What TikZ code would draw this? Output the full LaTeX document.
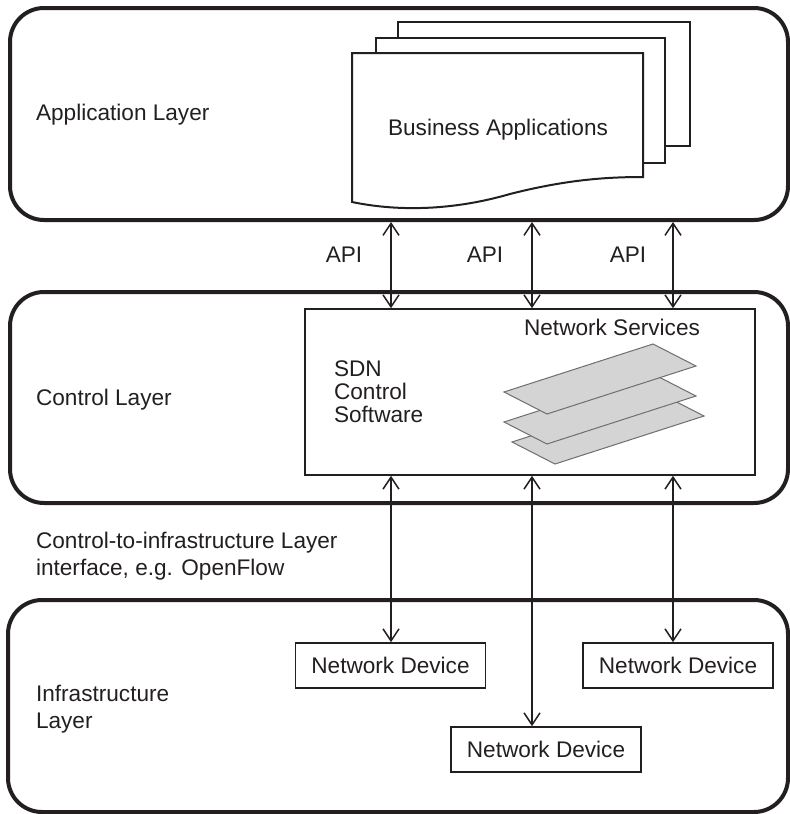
\documentclass[tikz,border=0pt]{standalone}
\usepackage{fontspec}
\setmainfont{Liberation Sans}
\usetikzlibrary{arrows.meta,positioning}
\definecolor{ink}{HTML}{231F20}
\definecolor{planefill}{HTML}{D4D4D4}
\definecolor{planeline}{HTML}{6E6E6E}
\tikzset{
    layer style/.style={draw=ink,line width=2pt,rounded corners=17pt,minimum width=389pt},
    label style/.style={anchor=west,align=left,text=ink},
    box style/.style={draw=ink,line width=0.8pt,fill=white},
    device style/.style={draw=ink,line width=0.8pt,minimum width=95pt,minimum height=22.5pt,text=ink},
    doc style/.style={draw=ink,line width=1pt,fill=white},
    plane style/.style={draw=planeline,line width=0.5pt,fill=planefill},
    arrow style both/.style={draw=ink,line width=0.75pt,{Straight Barb[length=6pt,width=8pt]}-{Straight Barb[length=6pt,width=8pt]}},
}

\begin{document}
\begin{tikzpicture}[x=0.5pt,y=-0.5pt,font=\fontsize{11.3}{13}\selectfont]
\useasboundingbox (0,0) rectangle (790,814);

% the three layers
\node [layer style,minimum height=106pt] (app) at (399,114) {};
\node [layer style,minimum height=105.5pt] (ctrl) at (399,397.5) {};
\node [layer style,minimum height=106pt,minimum width=390pt] (infra) at (398,706) {};

\node [label style] (applabel) at (29,115) {Application Layer};
\node [label style] (ctrllabel) at (29,400) {Control Layer};
\node [label style,font=\fontsize{11.3}{13.5}\selectfont] (oflabel) at (29,556)
      {Control-to-infrastructure Layer\\interface, e.g. OpenFlow};
\node [label style,font=\fontsize{11.3}{13.5}\selectfont] (infralabel) at (29,709)
      {Infrastructure\\Layer};

% business applications (stack of pages)
\draw [doc style] (398,22) rectangle (690,146);
\draw [doc style] (376,38) rectangle (665,163);
\draw [doc style] (352,53) -- (352,202)
      .. controls (400,212) and (455,210) .. (510,194)
      .. controls (565,180) and (605,177) .. (643,177) -- (643,53) -- cycle;
\node [text=ink] (bizapps) at (498,130) {Business Applications};

% SDN control software
\node [box style,minimum width=225pt,minimum height=83pt] (ctrlbox) at (530,392) {};
\node [text=ink] (netserv) at (612,327) {Network Services};
\node [label style,font=\fontsize{11.3}{11.5}\selectfont] (sdn) at (327,392)
      {SDN\\Control\\Software};
\draw [plane style] (512,442) -- (661,394) -- (704,416) -- (555,464) -- cycle;
\draw [plane style] (504,422) -- (653,374) -- (696,396) -- (547,444) -- cycle;
\draw [plane style] (504,392) -- (653,344) -- (696,366) -- (547,414) -- cycle;

% network devices
\node [device style] (dev1) at (390.5,665.5) {Network Device};
\node [device style] (dev2) at (678,665.5) {Network Device};
\node [device style] (dev3) at (546,749.5) {Network Device};

% arrows
\coordinate (c1) at (391,0);
\coordinate (c2) at (532,0);
\coordinate (c3) at (673,0);
\draw [arrow style both] (app.south -| c1) -- (ctrlbox.north -| c1);
\draw [arrow style both] (app.south -| c2) -- (ctrlbox.north -| c2);
\draw [arrow style both] (app.south -| c3) -- (ctrlbox.north -| c3);
\node [text=ink] (api1) at (344,255) {API};
\node [text=ink] (api2) at (485,255) {API};
\node [text=ink] (api3) at (628,255) {API};

\draw [arrow style both] (ctrlbox.south -| c1) -- (dev1.north -| c1);
\draw [arrow style both] (ctrlbox.south -| c2) -- (dev3.north -| c2);
\draw [arrow style both] (ctrlbox.south -| c3) -- (dev2.north -| c3);

\end{tikzpicture}
\end{document}
